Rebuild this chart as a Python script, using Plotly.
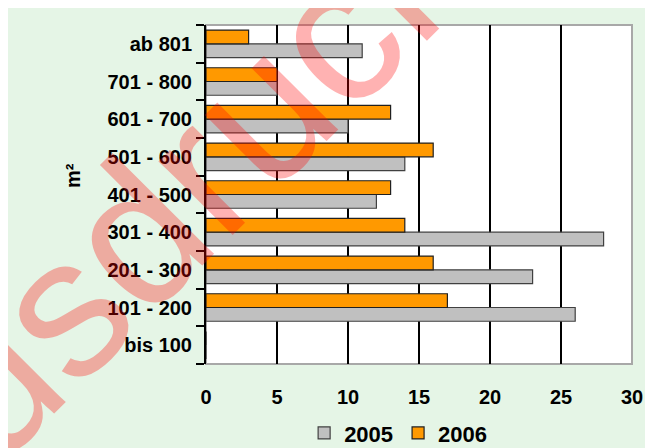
import plotly.graph_objs as go

# categories bottom -> top
sizes = ['bis 100', '101 - 200', '201 - 300', '301 - 400', '401 - 500',
         '501 - 600', '601 - 700', '701 - 800', 'ab 801']
counts_2005 = [0, 26, 23, 28, 12, 14, 10, 5, 11]
counts_2006 = [0, 17, 16, 14, 13, 16, 13, 5, 3]
x_ticks = [0, 5, 10, 15, 20, 25, 30]

FONT = 'Liberation Sans, Arial, sans-serif'
GREEN = '#e5f5e6'

fig = go.Figure()

fig.add_trace(go.Bar(
    y=sizes, x=counts_2005, orientation='h', name='<b>2005</b>',
    marker=dict(color='#c0c0c0', line=dict(color='#404040', width=1.2))
))
fig.add_trace(go.Bar(
    y=sizes, x=counts_2006, orientation='h', name='<b>2006</b>',
    marker=dict(color='#ff9900', line=dict(color='#202020', width=1.2))
))

# white plot area with grey frame
fig.add_shape(type='rect', xref='paper', yref='paper', layer='below',
              x0=0, x1=1, y0=0, y1=1,
              fillcolor='white', line=dict(color='#a8a8a8', width=2))

# y title
fig.add_annotation(text='<b>m²</b>', xref='paper', yref='paper',
                   x=-0.312, y=0.555, xanchor='center', yanchor='middle',
                   textangle=-90, showarrow=False,
                   font=dict(family=FONT, size=20, color='black'))

# watermark
fig.add_annotation(text='Ausdruck', xref='paper', yref='paper',
                   x=-0.137, y=0.413, textangle=-45, showarrow=False,
                   xanchor='center', yanchor='middle',
                   font=dict(family=FONT, size=198, color='rgba(255,0,0,0.3)'))

fig.update_layout(
    width=653, height=448,
    paper_bgcolor=GREEN,
    plot_bgcolor='rgba(0,0,0,0)',
    margin=dict(l=198, r=29, t=17, b=92, autoexpand=False),
    barmode='group', bargap=0.27, bargroupgap=0,
    font=dict(family=FONT, color='black'),
    showlegend=True,
    legend=dict(orientation='h', x=0.451, xanchor='center', y=-0.204, yanchor='middle',
                bgcolor='rgba(0,0,0,0)', font=dict(size=22, family=FONT),
                itemwidth=30, traceorder='normal'),
    xaxis=dict(range=[0, 30], tickvals=x_ticks, ticktext=[f'<b>{v}</b>' for v in x_ticks],
               showgrid=True, gridcolor='black', gridwidth=2,
               showline=False, zeroline=False, ticks='', ticklabelstandoff=19,
               tickfont=dict(size=20, family=FONT)),
    xaxis2=dict(range=[0, 30], overlaying='x', side='top', anchor='y',
                showline=True, linecolor='black', linewidth=2,
                ticks='inside', dtick=1, ticklen=6, tickwidth=2, tickcolor='black',
                showticklabels=False, showgrid=False, zeroline=False),
    yaxis=dict(categoryorder='array', categoryarray=sizes,
               tickvals=sizes, ticktext=[f'<b>{s}</b>' for s in sizes],
               showline=True, linecolor='black', linewidth=2,
               ticks='outside', tickson='boundaries', ticklen=8, tickwidth=2,
               tickcolor='black', showgrid=False, zeroline=False,
               ticklabelstandoff=8,
               tickfont=dict(size=20, family=FONT)),
)

fig.write_html('out.html')
